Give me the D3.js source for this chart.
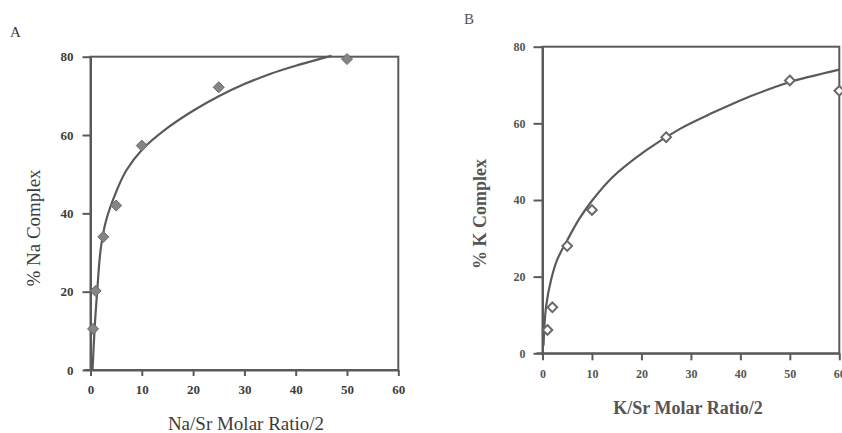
<!DOCTYPE html>
<html>
<head>
<meta charset="utf-8">
<script src="https://cdn.jsdelivr.net/npm/d3@7"></script>
<style>
  body { margin: 0; background: #fff; }
  text { font-family: "Liberation Serif", "Times New Roman", serif; }
</style>
</head>
<body>
<svg id="chart" width="842" height="433"></svg>
<script>
// panel A - Na
var naRatio   = [0.5, 1, 2.5, 5, 10, 25, 50];
var naComplex = [10.5, 20.2, 34, 42, 57.3, 72.2, 79.4];
var naFitX = [0.4, 0.8, 1.3, 2, 3, 5, 7, 10, 15, 20, 25, 30, 35, 40, 47];
var naFitY = [0, 10.5, 20, 31, 38, 45.5, 51, 56.2, 61.8, 66.2, 69.9, 73.0, 75.6, 77.7, 80.2];

// panel B - K
var kRatio   = [1, 2, 5, 10, 25, 50, 60];
var kComplex = [6.1, 12, 28, 37.4, 56.4, 71.2, 68.5];
var kFitX = [0.2, 0.7, 1.7, 3, 5, 7.4, 10, 14.2, 21, 27.7, 34.5, 41.3, 47.3, 50, 60];
var kFitY = [2, 12, 19, 24.5, 29.5, 35, 39.8, 46, 53, 58.5, 62.8, 66.7, 69.6, 70.8, 74];

var xTicks = [0, 10, 20, 30, 40, 50, 60];
var yTicks = [0, 20, 40, 60, 80];

var svg = d3.select("#chart");
var ink = "#5a5a5a";

function panel(p) {
  var x = d3.scaleLinear().domain([0, 60]).range(p.xr);
  var y = d3.scaleLinear().domain([0, 80]).range(p.yr);
  var g = svg.append("g");

  // frame (top + right)
  g.append("rect")
    .attr("x", x(0)).attr("y", y(80))
    .attr("width", x(60) - x(0)).attr("height", y(0) - y(80))
    .attr("fill", "none").attr("stroke", ink).attr("stroke-width", 2);

  var xa = g.append("g")
    .attr("transform", "translate(0," + y(0) + ")")
    .call(d3.axisBottom(x).tickValues(xTicks).tickSize(p.xts).tickPadding(p.xtp).tickSizeOuter(0));
  var ya = g.append("g")
    .attr("transform", "translate(" + x(0) + ",0)")
    .call(d3.axisLeft(y).tickValues(yTicks).tickSize(p.yts).tickPadding(p.ytp).tickSizeOuter(0));
  [xa, ya].forEach(function(a) {
    a.selectAll("path, line").attr("stroke", ink).attr("stroke-width", 2);
    a.selectAll("text")
      .style("font-family", '"Liberation Serif", serif')
      .style("font-weight", "bold")
      .style("font-size", p.tickFont)
      .attr("fill", p.textFill);
  });
  // x axis runs a little past the y axis
  g.append("line")
    .attr("x1", x(0) - 6).attr("x2", x(0))
    .attr("y1", y(0)).attr("y2", y(0))
    .attr("stroke", ink).attr("stroke-width", 2);

  var line = d3.line()
    .x(function(d) { return x(d[0]); })
    .y(function(d) { return y(d[1]); })
    .curve(d3.curveCatmullRom.alpha(0.5));
  g.append("path")
    .datum(d3.zip(p.fitX, p.fitY))
    .attr("d", line)
    .attr("fill", "none").attr("stroke", ink).attr("stroke-width", 2.2);

  var sym = d3.symbol().type(d3.symbolDiamond2).size(p.symSize);
  g.selectAll(".pt")
    .data(d3.zip(p.px, p.py))
    .enter().append("path")
    .attr("class", "pt")
    .attr("transform", function(d) { return "translate(" + x(d[0]) + "," + y(d[1]) + ")"; })
    .attr("d", sym)
    .attr("fill", p.symFill).attr("stroke", p.symStroke).attr("stroke-width", p.symSW);

  g.append("text")
    .attr("x", p.xlab[0]).attr("y", p.xlab[1])
    .attr("text-anchor", "middle")
    .style("font-size", p.labFont).style("font-weight", p.labWeight)
    .attr("fill", p.textFill)
    .text(p.xTitle);
  g.append("text")
    .attr("transform", "translate(" + p.ylab[0] + "," + p.ylab[1] + ") rotate(-90)")
    .attr("text-anchor", "middle")
    .style("font-size", p.labFont).style("font-weight", p.labWeight)
    .attr("fill", p.textFill)
    .text(p.yTitle);
  g.append("text")
    .attr("x", p.tag[0]).attr("y", p.tag[1])
    .style("font-size", "15px")
    .attr("fill", p.textFill)
    .text(p.tagText);
}

panel({
  xr: [90.5, 398.3], yr: [370, 56.7],
  xts: 6, xtp: 9, yts: 8, ytp: 9,
  tickFont: "13px", textFill: "#3c3c3c",
  fitX: naFitX, fitY: naFitY, px: naRatio, py: naComplex,
  symSize: 78, symFill: "#858585", symStroke: "#6a6a6a", symSW: 1,
  xlab: [246, 430], ylab: [40, 228], labFont: "19px", labWeight: "normal",
  xTitle: "Na/Sr Molar Ratio/2", yTitle: "% Na Complex",
  tag: [10, 37], tagText: "A"
});

panel({
  xr: [542.5, 839.3], yr: [353.3, 46.7],
  xts: 7, xtp: 9, yts: 9, ytp: 8,
  tickFont: "12px", textFill: "#555",
  fitX: kFitX, fitY: kFitY, px: kRatio, py: kComplex,
  symSize: 60, symFill: "#fff", symStroke: "#6a6a6a", symSW: 2,
  xlab: [688, 414], ylab: [486, 214], labFont: "18px", labWeight: "bold",
  xTitle: "K/Sr Molar Ratio/2", yTitle: "% K Complex",
  tag: [464, 24], tagText: "B"
});
</script>
</body>
</html>
